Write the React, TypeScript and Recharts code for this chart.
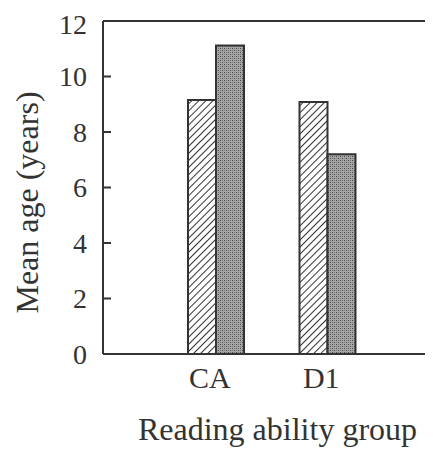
import React from 'react';
import { BarChart, Bar, XAxis, YAxis, ReferenceLine, Label } from 'recharts';

const groups = ['CA', 'D1'];
const hatchedValues = [9.15, 9.08];
const greyValues = [11.12, 7.2];
const yTicks = [0, 2, 4, 6, 8, 10, 12];

const data = groups.map((g, i) => ({
  group: g,
  hatched: hatchedValues[i],
  grey: greyValues[i],
}));

const ink = '#333';
const font = '"Liberation Serif", "Times New Roman", serif';

export default function App() {
  return (
    <div style={{ width: 425, height: 441, overflow: 'hidden' }}>
      <BarChart
        width={460}
        height={441}
        data={data}
        margin={{ top: 13, right: 0, left: 0, bottom: 5 }}
        barSize={28}
        barGap={0}
      >
        <defs>
          <pattern id="hatch" patternUnits="userSpaceOnUse" width="5" height="5" patternTransform="rotate(45)">
            <rect width="5" height="5" fill="#fff" />
            <line x1="0" y1="0" x2="0" y2="5" stroke="#333" strokeWidth="2" />
          </pattern>
          <pattern id="stipple" patternUnits="userSpaceOnUse" width="4" height="4">
            <rect width="4" height="4" fill="#a6a6a6" />
            <rect x="0" y="0" width="1" height="1" fill="#4a4a4a" />
            <rect x="2" y="2" width="1" height="1" fill="#4a4a4a" />
            <rect x="2" y="0" width="1" height="1" fill="#777" />
            <rect x="0" y="2" width="1" height="1" fill="#777" />
          </pattern>
        </defs>
        <XAxis
          dataKey="group"
          height={90}
          padding={{ left: 57, right: 57 }}
          tickLine={false}
          tickMargin={7}
          axisLine={{ stroke: ink, strokeWidth: 2 }}
          tick={{ fill: ink, fontSize: 30, fontFamily: font, dx: -6 }}
        >
          <Label
            value="Reading ability group"
            position="insideBottom"
            offset={4}
            dx={6}
            fill={ink}
            fontSize={32}
            fontFamily={font}
          />
        </XAxis>
        <YAxis
          yAxisId="left"
          width={95}
          domain={[0, 12]}
          ticks={yTicks}
          tickSize={-8}
          tickMargin={24}
          axisLine={{ stroke: ink, strokeWidth: 2 }}
          tickLine={{ stroke: ink, strokeWidth: 2 }}
          tick={{ fill: ink, fontSize: 28, fontFamily: font }}
        >
          <Label
            value="Mean age (years)"
            angle={-90}
            position="insideLeft"
            offset={19}
            dy={15}
            fill={ink}
            fontSize={32}
            fontFamily={font}
            style={{ textAnchor: 'middle' }}
          />
        </YAxis>
        <YAxis
          yAxisId="right"
          orientation="right"
          width={28}
          domain={[0, 12]}
          ticks={yTicks}
          tickSize={-8}
          tick={() => <g />}
          axisLine={{ stroke: ink, strokeWidth: 2 }}
          tickLine={{ stroke: ink, strokeWidth: 2 }}
        />
        <ReferenceLine yAxisId="left" y={12} stroke={ink} strokeWidth={2} />
        <Bar yAxisId="left" dataKey="hatched" fill="url(#hatch)" stroke={ink} strokeWidth={2} isAnimationActive={false} />
        <Bar yAxisId="left" dataKey="grey" fill="url(#stipple)" stroke={ink} strokeWidth={2} isAnimationActive={false} />
      </BarChart>
    </div>
  );
}
